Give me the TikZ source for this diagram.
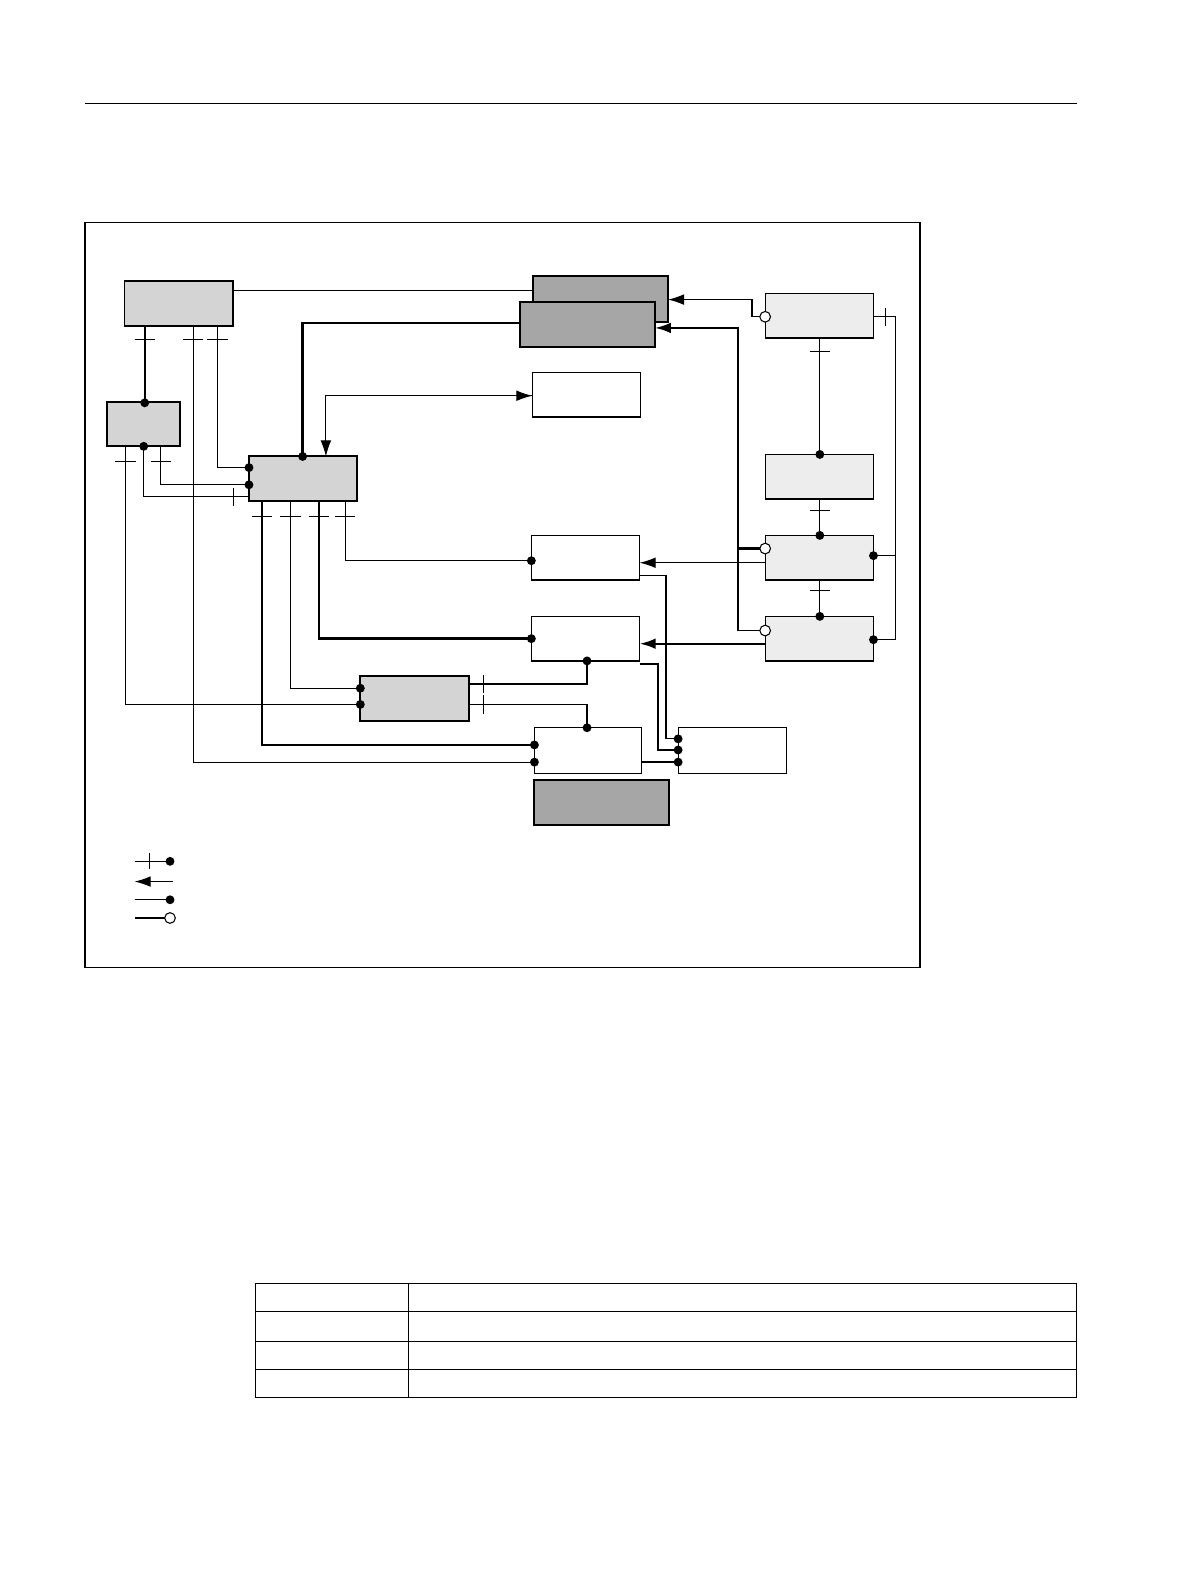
\documentclass[tikz,border=0pt]{standalone}
\usetikzlibrary{arrows.meta}
\begin{document}
\begin{tikzpicture}[x=0.02cm,y=-0.02cm,
  thin/.style={line width=0.6pt},
  thk/.style={line width=1.3pt},
  bx/.style={draw,line width=0.7pt},
  gbx/.style={draw,line width=1.1pt,fill=black!17},
  dbx/.style={draw,line width=1.1pt,fill=black!35},
  lbx/.style={draw,line width=0.7pt,fill=black!7},
  dotc/.style={fill,circle,inner sep=0pt,minimum size=5pt},
  ocirc/.style={draw,fill=white,circle,inner sep=0pt,minimum size=6pt,line width=0.6pt},
  arr/.style={-{Latex[length=9pt,width=6pt]}}]
\useasboundingbox (0,0) rectangle (1177,1568);
\draw[thin] (84,102) -- (1064,102);
\draw[line width=0.9pt] (84,220) rectangle (909,956);
% boxes
\draw[gbx] (123,278) rectangle (230,322);
\draw[gbx] (106,397) rectangle (178,441);
\draw[gbx] (246,451) rectangle (353,495);
\draw[dbx] (527,273) rectangle (660,318);
\draw[dbx] (514,298) rectangle (647,343);
\draw[bx] (526,368) rectangle (633,412);
\draw[lbx] (756,290) rectangle (863,334);
\draw[lbx] (756,449) rectangle (863,493);
\draw[lbx] (756,529) rectangle (863,573);
\draw[lbx] (756,609) rectangle (863,653);
\draw[bx] (525,529) rectangle (632,573);
\draw[bx] (525,609) rectangle (632,653);
\draw[gbx] (356,668) rectangle (463,712);
\draw[bx] (528,719) rectangle (634,764);
\draw[bx] (670,719) rectangle (777,764);
\draw[dbx] (528,771) rectangle (661,815);
% connectors
\draw[thin] (230,287) -- (527,287);
\draw[thk] (514,319) -- (299,319) -- (299,451);
\draw[thin,arr] (526,391) -- (322,391) -- (322,451);
\draw[thin,arr] (322,391) -- (526,391);
\draw[thk] (143,322) -- (143,398);
\draw[thin] (191,322) -- (191,753) -- (528,753);
\draw[thin] (215,322) -- (215,462) -- (246,462);
\draw[thin] (124,441) -- (124,696) -- (356,696);
\draw[thin] (142,441) -- (142,491) -- (246,491);
\draw[thin] (159,441) -- (159,479) -- (246,479);
\draw[thk] (259,495) -- (259,736) -- (528,736);
\draw[thin] (287,495) -- (287,680) -- (356,680);
\draw[thk] (315,495) -- (315,631) -- (525,631);
\draw[thin] (341,495) -- (341,554) -- (525,554);
\draw[thk] (463,676) -- (580,676) -- (580,653);
\draw[thin] (463,696) -- (580,696);
\draw[thk] (580,696) -- (580,719);
\draw[thin,arr] (756,313) -- (743,313) -- (743,296) -- (660,296);
\draw[thin] (863,313) -- (885,313) -- (885,632) -- (863,632);
\draw[thin] (885,549) -- (863,549);
\draw[thin] (810,334) -- (810,449);
\draw[thin] (810,493) -- (810,529);
\draw[thin] (810,573) -- (810,609);
\draw[thk,arr] (729,623) -- (729,324) -- (647,324);
\draw[thin] (729,623) -- (756,623);
\draw[thk] (729,542) -- (756,542);
\draw[thin,arr] (756,556) -- (632,556);
\draw[thk,arr] (756,636) -- (632,636);
\draw[thin] (632,569) -- (658,569) -- (658,730) -- (670,730);
\draw[thk] (632,656) -- (650,656) -- (650,741) -- (670,741);
\draw[thk] (634,753) -- (670,753);
% ticks
\foreach \x in {143,191,215} \draw[thin] (\x-10,335) -- (\x+10,335);
\foreach \x in {124,159} \draw[thin] (\x-10,456) -- (\x+10,456);
\foreach \x in {259,287,315,341} \draw[thin] (\x-10,510) -- (\x+10,510);
\draw[thin] (231,482) -- (231,500);
\draw[thin] (478,667) -- (478,685);
\draw[thin] (478,687) -- (478,705);
\draw[thin] (875,304) -- (875,322);
\foreach \y in {347,504,583} \draw[thin] (800,\y) -- (820,\y);
% dots
\foreach \p in {(143,398),(142,441),(299,451),(246,462),(246,479),(525,554),(525,631),(580,653),(356,680),(356,696),(580,719),(528,736),(528,753),(670,730),(670,741),(670,753),(810,449),(810,529),(810,609),(863,549),(863,632)} \node[dotc] at \p {};
\foreach \p in {(756,313),(756,542),(756,623)} \node[ocirc] at \p {};
% legend
\draw[thin] (133,851) -- (168,851); \draw[thin] (148,843) -- (148,859); \node[dotc] at (168,851) {};
\draw[thin,arr] (171,871) -- (133,871);
\draw[thin] (133,889) -- (168,889); \node[dotc] at (168,889) {};
\draw[thin] (133,907) -- (165,907); \node[ocirc] at (168,907) {};
% table
\draw[thin] (252,1268) rectangle (1064,1381);
\foreach \y in {1296,1325,1353} \draw[thin] (252,\y) -- (1064,\y);
\draw[thin] (404,1268) -- (404,1381);
\end{tikzpicture}
\end{document}
